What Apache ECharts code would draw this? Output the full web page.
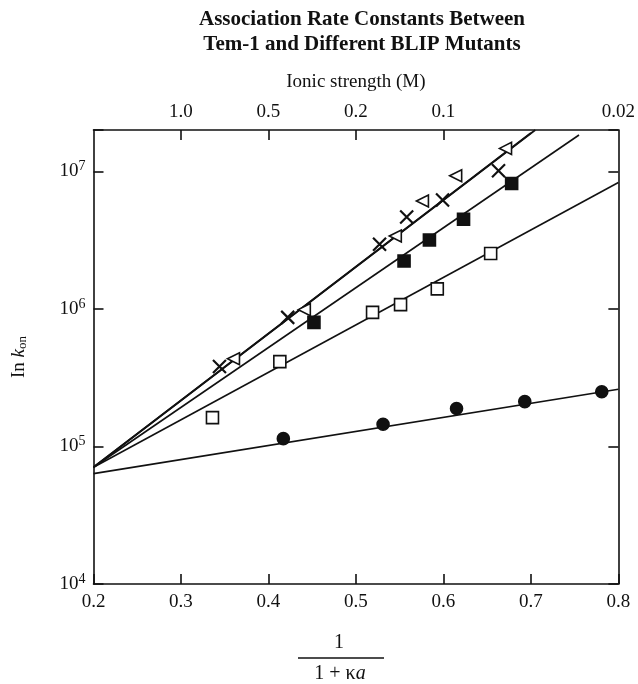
<!DOCTYPE html>
<html>
<head>
<meta charset="utf-8">
<script src="https://cdn.jsdelivr.net/npm/echarts@6/dist/echarts.min.js"></script>
<style>html,body{margin:0;padding:0;background:#fff;}#c{width:638px;height:684px;}</style>
</head>
<body>
<div id="c"></div>
<script>
// Data
const circlesX = [0.417, 0.531, 0.615, 0.693, 0.781];
const circlesY = [1.14e5, 1.45e5, 1.89e5, 2.12e5, 2.5e5];
const openSqX = [0.336, 0.413, 0.519, 0.551, 0.593, 0.654];
const openSqY = [1.62e5, 4.14e5, 9.44e5, 1.075e6, 1.40e6, 2.53e6];
const filledSqX = [0.452, 0.555, 0.584, 0.623, 0.678];
const filledSqY = [7.98e5, 2.23e6, 3.17e6, 4.49e6, 8.17e6];
const crossX = [0.344, 0.422, 0.527, 0.558, 0.599, 0.663];
const crossY = [3.81e5, 8.68e5, 2.95e6, 4.66e6, 6.2e6, 1.01e7];
const triX = [0.360, 0.441, 0.545, 0.576, 0.614, 0.671];
const triY = [4.34e5, 9.88e5, 3.39e6, 6.1e6, 9.29e6, 1.47e7];

// Fitted lines (endpoints)
const fitCirclesX = [0.2, 0.8];
const fitCirclesY = [6.35e4, 2.61e5];
const fitOpenSqX = [0.2, 0.8];
const fitOpenSqY = [7.06e4, 8.3e6];
const fitFilledSqX = [0.2, 0.755];
const fitFilledSqY = [7.06e4, 1.84e7];
const fitCrossX = [0.2, 0.700];
const fitCrossY = [7.06e4, 1.9e7];
const fitTriX = [0.2, 0.705];
const fitTriY = [7.06e4, 2.0e7];

// Top axis (ionic strength) tick labels and their positions on the bottom scale
const ionicPos = [0.3, 0.4, 0.5, 0.6, 0.8];
const ionicLabels = ['1.0', '0.5', '0.2', '0.1', '0.02'];
const ionicTickPos = [0.3, 0.4, 0.5, 0.6];

const titleLines = ['Association Rate Constants Between', 'Tem-1 and Different BLIP Mutants'];

const zip = (xs, ys) => xs.map((x, i) => [x, ys[i]]);
const SERIF = '"Liberation Serif", "DejaVu Serif", serif';
const INK = '#111';

const chart = echarts.init(document.getElementById('c'), null, {renderer: 'canvas'});

function lineSeries(xs, ys, w) {
  return {
    type: 'line', data: zip(xs, ys), showSymbol: false, symbol: 'none',
    lineStyle: {color: INK, width: w || 1.6}, silent: true, z: 2, clip: true
  };
}
function scatter(xs, ys, symbol, size, fill, extra) {
  return Object.assign({
    type: 'scatter', data: zip(xs, ys), symbol: symbol, symbolSize: size,
    itemStyle: {color: fill, borderColor: INK, borderWidth: 1.6, opacity: 1},
    silent: true, z: 3
  }, extra || {});
}

const option = {
  animation: false,
  backgroundColor: '#fff',
  title: {
    text: titleLines.join('\n'),
    left: 357, top: 2, textAlign: 'center',
    textStyle: {fontFamily: SERIF, fontWeight: 'bold', fontSize: 21, lineHeight: 25, color: INK}
  },
  grid: {left: 93.5, right: 18.5, top: 130, bottom: 100, containLabel: false},
  xAxis: [
    {
      type: 'value', position: 'bottom', min: 0.2, max: 0.8, interval: 0.1,
      axisLine: {show: true, lineStyle: {color: INK, width: 1.6}},
      axisTick: {show: true, inside: true, length: 10, lineStyle: {color: INK, width: 1.6}},
      splitLine: {show: false},
      axisLabel: {
        margin: 9, fontFamily: SERIF, fontSize: 19, color: INK,
        formatter: v => v.toFixed(1)
      }
    },
    {
      type: 'value', position: 'top', min: 0.2, max: 0.8, interval: 0.1,
      name: 'Ionic strength (M)', nameLocation: 'middle', nameGap: 38,
      nameTextStyle: {fontFamily: SERIF, fontSize: 19, color: INK},
      axisLine: {show: true, lineStyle: {color: INK, width: 1.6}},
      axisTick: {show: true, inside: true, length: 10, customValues: ionicTickPos, lineStyle: {color: INK, width: 1.6}},
      splitLine: {show: false},
      axisLabel: {
        margin: 8, fontFamily: SERIF, fontSize: 19, color: INK,
        customValues: ionicPos,
        formatter: v => {
          const i = ionicPos.findIndex(p => Math.abs(p - v) < 1e-6);
          return i >= 0 ? ionicLabels[i] : '';
        }
      }
    }
  ],
  yAxis: [
    {
      type: 'log', logBase: 10, min: 1e4, max: 2e7, position: 'left',
      name: '{n|In }{k|k}{sub|on}', nameLocation: 'middle', nameGap: 64, nameRotate: 90,
      nameTextStyle: {
        fontFamily: SERIF, fontSize: 19, color: INK,
        rich: {
          n: {fontFamily: SERIF, fontSize: 19, color: INK},
          k: {fontFamily: SERIF, fontSize: 19, fontStyle: 'italic', color: INK},
          sub: {fontFamily: SERIF, fontSize: 13, color: INK, padding: [8, 0, 0, 0]}
        }
      },
      axisLine: {show: true, lineStyle: {color: INK, width: 1.6}},
      axisTick: {show: true, inside: true, length: 10, lineStyle: {color: INK, width: 1.6}},
      minorTick: {show: false},
      splitLine: {show: false},
      axisLabel: {
        margin: 8, color: INK,
        formatter: v => {
          const e = Math.log10(v);
          const r = Math.round(e);
          if (Math.abs(e - r) > 1e-6) return '';
          return '{b|10}{s|' + r + '}';
        },
        rich: {
          b: {fontFamily: SERIF, fontSize: 19, color: INK},
          s: {fontFamily: SERIF, fontSize: 14, color: INK, padding: [0, 0, 10, 0]}
        }
      }
    },
    {
      type: 'log', logBase: 10, min: 1e4, max: 2e7, position: 'right',
      axisLine: {show: true, lineStyle: {color: INK, width: 1.6}},
      axisTick: {show: true, inside: true, length: 10, lineStyle: {color: INK, width: 1.6}},
      splitLine: {show: false},
      axisLabel: {show: false}
    }
  ],
  graphic: [
    {
      type: 'text', x: 339, y: 643,
      style: {text: '1', fontFamily: SERIF, fontSize: 20, fill: INK, align: 'center', verticalAlign: 'middle'}
    },
    {
      type: 'line', shape: {x1: 298, y1: 658, x2: 384, y2: 658},
      style: {stroke: INK, lineWidth: 1.4}
    },
    {
      type: 'text', x: 340, y: 674,
      style: {
        text: '{r|1 + κ}{i|a}', align: 'center', verticalAlign: 'middle',
        rich: {
          r: {fontFamily: SERIF, fontSize: 20, fill: INK, color: INK},
          i: {fontFamily: SERIF, fontSize: 20, fontStyle: 'italic', fill: INK, color: INK}
        }
      }
    }
  ],
  series: [
    lineSeries(fitCirclesX, fitCirclesY),
    lineSeries(fitOpenSqX, fitOpenSqY),
    lineSeries(fitFilledSqX, fitFilledSqY),
    lineSeries(fitCrossX, fitCrossY, 1.8),
    lineSeries(fitTriX, fitTriY, 1.8),
    scatter(circlesX, circlesY, 'circle', 12, INK),
    scatter(openSqX, openSqY, 'rect', 12, '#fff'),
    scatter(filledSqX, filledSqY, 'rect', 12, INK),
    scatter(crossX, crossY, 'path://M0,0L10,10M10,0L0,10', 13, INK, {itemStyle: {color: INK, borderColor: INK, borderWidth: 2.2, opacity: 1}}),
    scatter(triX, triY, 'triangle', 12, '#fff', {symbolRotate: 90})
  ]
};
chart.setOption(option);
</script>
</body>
</html>
